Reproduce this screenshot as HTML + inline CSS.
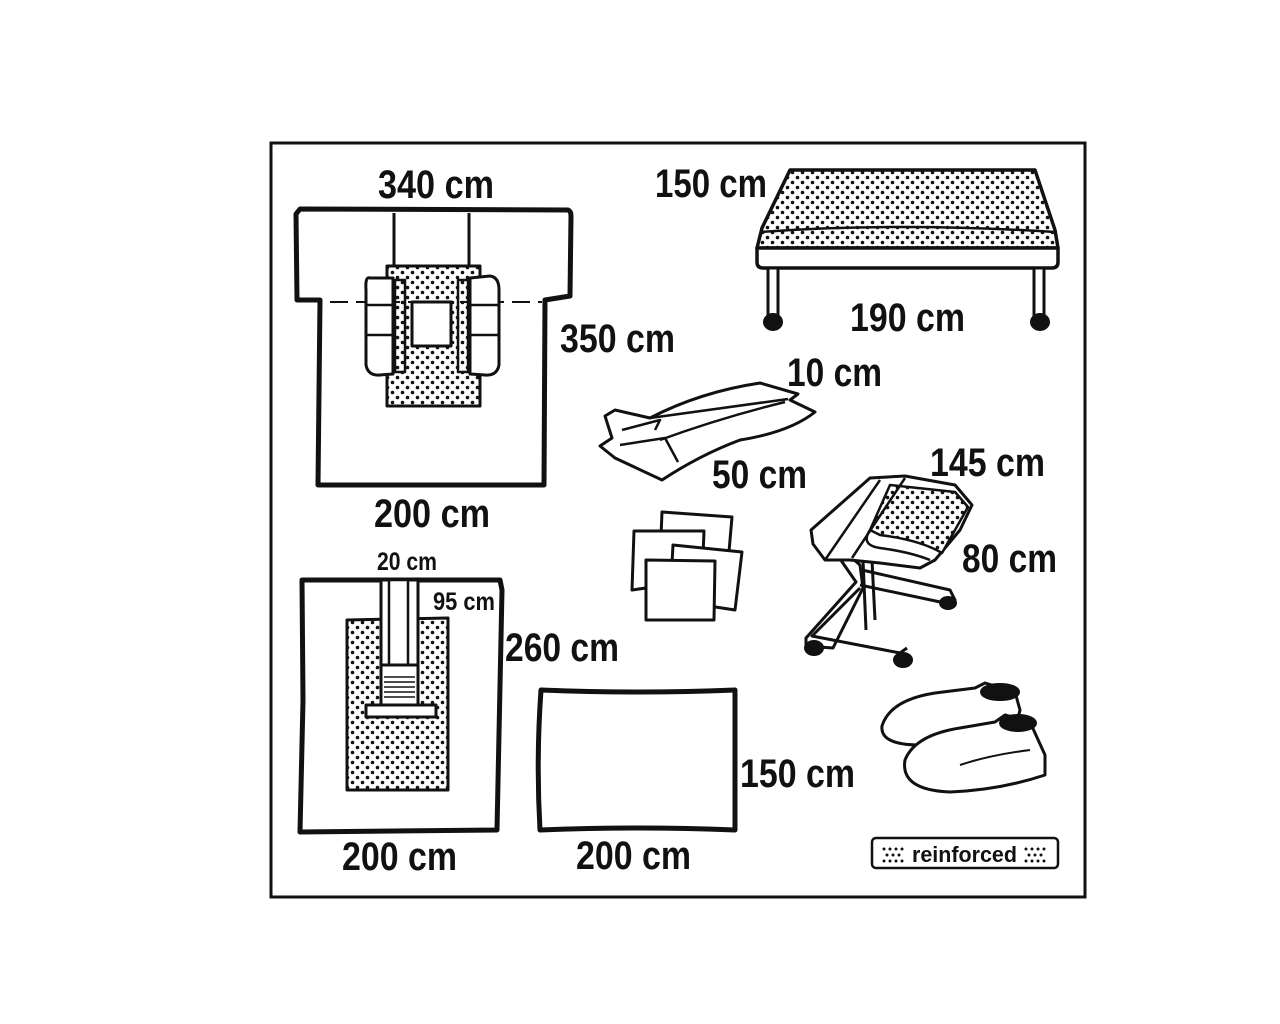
<!DOCTYPE html>
<html><head><meta charset="utf-8"><style>
html,body{margin:0;padding:0;background:#fff}
svg{display:block}
text{font-family:"Liberation Sans Narrow","Liberation Sans",sans-serif;font-weight:bold;fill:#111}
</style></head><body>
<svg width="1280" height="1024" viewBox="0 0 1280 1024" xmlns="http://www.w3.org/2000/svg">
<defs>
<pattern id="d" width="10" height="10" patternUnits="userSpaceOnUse">
<rect width="10" height="10" fill="#fff"/><circle cx="2.5" cy="2.5" r="1.8" fill="#111"/><circle cx="7.5" cy="7.5" r="1.8" fill="#111"/>
</pattern>
</defs>
<rect x="271" y="143" width="814" height="754" fill="none" stroke="#111" stroke-width="3"/>
<g fill="none" stroke="#111" stroke-width="4" stroke-linejoin="round">
<!-- item 1 -->
<path d="M300 209 L568 210 Q571 211 571 216 L570 296 L545 300 L544 485 L318 485 L320 300 L297 300 L296 214 Z" fill="#fff" stroke-width="5"/>
<line x1="394" y1="213" x2="394" y2="268" stroke-width="3"/>
<line x1="469" y1="213" x2="469" y2="268" stroke-width="3"/>
<rect x="387" y="266" width="93" height="140" fill="url(#d)" stroke-width="3"/>
<rect x="412" y="302" width="39" height="44" fill="#fff" stroke-width="3"/>
<rect x="395" y="280" width="10" height="92" fill="url(#d)" stroke-width="2.5"/>
<rect x="458" y="280" width="10" height="92" fill="url(#d)" stroke-width="2.5"/>
<line x1="330" y1="302" x2="542" y2="302" stroke-width="2" stroke-dasharray="18,8"/>
<path d="M370 278 Q365 276 366 290 L366 365 Q368 376 380 375 L393 374 L393 278 Z" fill="#fff" stroke-width="3"/>
<path d="M367 305 L393 305 M367 335 L393 335" stroke-width="2.5"/>
<path d="M470 278 L490 276 Q499 277 499 290 L499 365 Q497 376 485 375 L470 374 Z" fill="#fff" stroke-width="3"/>
<path d="M470 305 L499 305 M470 335 L499 335" stroke-width="2.5"/>
<!-- table -->
<path d="M790 170 L1035 170 L1055 230 L1058 248 L757 248 L762 228 Z" fill="url(#d)" stroke-width="3.5"/>
<path d="M760 232 Q900 222 1055 232" stroke-width="2.5"/>
<path d="M757 248 L1058 248 L1058 262 Q1058 268 1052 268 L763 268 Q757 268 757 262 Z" fill="#fff" stroke-width="3.5"/>
<rect x="768" y="268" width="10" height="48" fill="#fff" stroke-width="3"/>
<rect x="1034" y="268" width="10" height="48" fill="#fff" stroke-width="3"/>
<ellipse cx="773" cy="322" rx="9" ry="8" fill="#111" stroke-width="2"/>
<ellipse cx="1040" cy="322" rx="9" ry="8" fill="#111" stroke-width="2"/>
<!-- towels -->
<path d="M605 416 L615 410 L650 418 Q700 392 760 383 L798 394 L790 400 L815 412 Q790 432 740 440 Q700 455 662 480 L615 458 L600 446 L612 438 Z" fill="#fff" stroke-width="3"/>
<path d="M622 430 L660 420 L655 430 M620 445 L665 438 L678 462 M650 418 L788 399 M660 440 Q720 418 785 402" stroke-width="2.5"/>
<!-- sponges -->
<path d="M662 512 L732 517 L728 563 L660 560 Z" fill="#fff" stroke-width="3"/>
<path d="M634 531 L704 531 L702 580 L632 590 Z" fill="#fff" stroke-width="3"/>
<path d="M673 545 L742 552 L735 610 L670 600 Z" fill="#fff" stroke-width="3"/>
<path d="M646 560 L715 561 L714 620 L646 620 Z" fill="#fff" stroke-width="3"/>
<!-- mayo stand -->
<path d="M820 530 L860 565 L863 588 L833 648 L806 646 L806 638 L856 582 Z" stroke-width="3" fill="#fff"/>
<path d="M860 588 L812 636 L900 653 L907 648 M862 570 L950 590 L955 600 L945 603 L860 585" stroke-width="3"/>
<ellipse cx="814" cy="648" rx="8" ry="6" fill="#111"/>
<ellipse cx="903" cy="660" rx="8" ry="6" fill="#111"/>
<ellipse cx="948" cy="603" rx="7" ry="5" fill="#111"/>
<line x1="863" y1="560" x2="866" y2="630" stroke-width="3"/>
<line x1="872" y1="560" x2="875" y2="620" stroke-width="3"/>
<path d="M813 544 L811 530 L870 478 L905 476 L955 485 L972 505 L960 530 L935 560 L920 568 L880 563 L850 560 L825 560 Z" fill="#fff" stroke-width="3"/>
<path d="M890 485 L955 492 L968 507 L942 553 Q920 540 880 535 L870 530 Z" fill="url(#d)" stroke-width="2.5"/>
<path d="M825 560 L880 480 M852 558 L905 478 M870 530 Q860 545 880 548 Q910 552 930 560" stroke-width="2.5"/>
<!-- shoes -->
<path d="M882 726 Q890 700 935 693 L975 688 L985 683 L1015 692 L1020 710 L1015 730 Q960 740 920 745 Q880 745 882 726 Z" fill="#fff" stroke-width="3"/>
<ellipse cx="1000" cy="692" rx="18" ry="7" fill="#111"/>
<path d="M905 760 Q915 735 960 728 L995 722 L1005 715 L1030 722 L1045 755 L1045 775 Q1000 790 950 792 Q900 790 905 760 Z" fill="#fff" stroke-width="3"/>
<ellipse cx="1018" cy="723" rx="17" ry="7" fill="#111"/>
<path d="M960 765 Q990 755 1030 750" stroke-width="2"/>
<!-- item 2 -->
<path d="M302 580 L500 580 L502 590 L497 830 L300 832 L303 700 Z" fill="#fff" stroke-width="5"/>
<path d="M347 620 L448 618 L448 790 L347 790 Z" fill="url(#d)" stroke-width="3"/>
<rect x="381" y="580" width="37" height="85" fill="#fff" stroke-width="3"/>
<rect x="389" y="580" width="19" height="85" fill="#fff" stroke-width="2.5"/>
<path d="M381 665 L418 665 L418 705 L381 705 Z" fill="#fff" stroke-width="3"/>
<path d="M384 677 L415 677 M384 682 L415 682 M384 687 L415 687 M384 692 L415 692 M384 697 L415 697" stroke-width="1.5"/>
<rect x="366" y="705" width="70" height="12" fill="#fff" stroke-width="3"/>
<!-- item 3 -->
<path d="M541 690 Q640 694 735 690 L735 830 Q640 826 540 830 Q536 760 541 690 Z" fill="#fff" stroke-width="5"/>
<!-- legend -->
<rect x="872" y="838" width="186" height="30" rx="4" fill="#fff" stroke-width="2.5"/>
</g>
<g fill="#111">
<circle cx="884" cy="849" r="1.5"/><circle cx="890" cy="849" r="1.5"/><circle cx="896" cy="849" r="1.5"/><circle cx="902" cy="849" r="1.5"/><circle cx="887" cy="855" r="1.5"/><circle cx="893" cy="855" r="1.5"/><circle cx="899" cy="855" r="1.5"/><circle cx="884" cy="861" r="1.5"/><circle cx="890" cy="861" r="1.5"/><circle cx="896" cy="861" r="1.5"/><circle cx="902" cy="861" r="1.5"/>
<circle cx="1026" cy="849" r="1.5"/><circle cx="1032" cy="849" r="1.5"/><circle cx="1038" cy="849" r="1.5"/><circle cx="1044" cy="849" r="1.5"/><circle cx="1029" cy="855" r="1.5"/><circle cx="1035" cy="855" r="1.5"/><circle cx="1041" cy="855" r="1.5"/><circle cx="1026" cy="861" r="1.5"/><circle cx="1032" cy="861" r="1.5"/><circle cx="1038" cy="861" r="1.5"/><circle cx="1044" cy="861" r="1.5"/>
</g>
<text x="912" y="862" font-size="22" textLength="105" lengthAdjust="spacingAndGlyphs">reinforced</text>
<g font-size="40">
<text x="378" y="198" textLength="116" lengthAdjust="spacingAndGlyphs">340 cm</text>
<text x="560" y="352" textLength="115" lengthAdjust="spacingAndGlyphs">350 cm</text>
<text x="374" y="527" textLength="116" lengthAdjust="spacingAndGlyphs">200 cm</text>
<text x="655" y="197" textLength="112" lengthAdjust="spacingAndGlyphs">150 cm</text>
<text x="850" y="331" textLength="115" lengthAdjust="spacingAndGlyphs">190 cm</text>
<text x="787" y="386" textLength="95" lengthAdjust="spacingAndGlyphs">10 cm</text>
<text x="712" y="488" textLength="95" lengthAdjust="spacingAndGlyphs">50 cm</text>
<text x="930" y="476" textLength="115" lengthAdjust="spacingAndGlyphs">145 cm</text>
<text x="962" y="572" textLength="95" lengthAdjust="spacingAndGlyphs">80 cm</text>
<text x="505" y="661" textLength="114" lengthAdjust="spacingAndGlyphs">260 cm</text>
<text x="740" y="787" textLength="115" lengthAdjust="spacingAndGlyphs">150 cm</text>
<text x="342" y="870" textLength="115" lengthAdjust="spacingAndGlyphs">200 cm</text>
<text x="576" y="869" textLength="115" lengthAdjust="spacingAndGlyphs">200 cm</text>
</g>
<text x="377" y="570" font-size="25" textLength="60" lengthAdjust="spacingAndGlyphs">20 cm</text>
<text x="433" y="610" font-size="25" textLength="62" lengthAdjust="spacingAndGlyphs">95 cm</text>
</svg>
</body></html>
